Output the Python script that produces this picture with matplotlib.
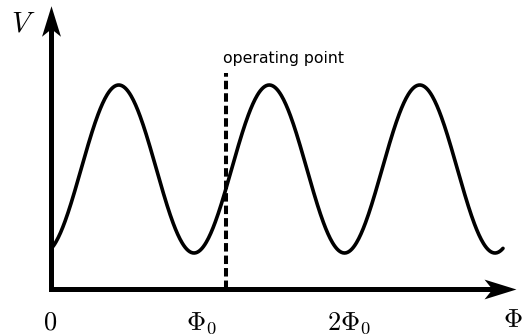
import numpy as np
import matplotlib
matplotlib.use("Agg")
import matplotlib.pyplot as plt
from matplotlib.path import Path

plt.rcParams['mathtext.fontset'] = 'cm'

# curve (flux in px-like units from the origin, V above the Phi axis)
phi_start, phi_end = 2, 452
phi_first_min = 143
period = 150.5
v_min, v_max = 36, 204

op_point = 175
op_top = 216

tick_pos = [-1, 150, 298]
tick_labels = ['$0$', r'$\Phi_0$', r'$2\Phi_0$']

fig = plt.figure(figsize=(5.22, 3.35), dpi=100)
ax = fig.add_axes([0, 0, 1, 1])
ax.set_xlim(-51, 471)
ax.set_ylim(-46, 289)
ax.axis('off')

phi = np.linspace(phi_start, phi_end, 600)
mid = (v_max + v_min) / 2
amp = (v_max - v_min) / 2
v = mid - amp * np.cos(2 * np.pi * (phi - phi_first_min) / period)
ax.plot(phi, v, color='black', lw=2.6, solid_capstyle='round')

# axes as an L with stealth arrow heads
ax.plot([0, 0, 440], [260, 0, 0], color='black', lw=3.6, solid_capstyle='projecting',
        solid_joinstyle='miter')


def stealth(angle):
    pts = np.array([[1, 0], [-1, 0.62], [-0.5, 0], [-1, -0.62], [1, 0]])
    c, s = np.cos(angle), np.sin(angle)
    pts = pts @ np.array([[c, s], [-s, c]])
    return Path(pts, [Path.MOVETO, Path.LINETO, Path.LINETO, Path.LINETO, Path.CLOSEPOLY])


ax.plot([449], [0], marker=stealth(0), ms=23, color='black', mew=0)
ax.plot([0], [268.5], marker=stealth(np.pi / 2), ms=22, color='black', mew=0)

# operating point
ax.plot([op_point, op_point], [0, op_top], color='black', lw=2.9, ls=(0, (2.1, 1.0)))
ax.text(op_point - 3, 230, 'operating point', fontsize=11.3, family='DejaVu Sans',
        ha='left', va='center')

for p, lab in zip(tick_pos, tick_labels):
    ax.text(p, -41, lab, fontsize=19, ha='center', va='baseline')
ax.text(462, -38, r'$\Phi$', fontsize=19, ha='center', va='baseline')
ax.text(-28, 257, r'$V$', fontsize=21, ha='center', va='baseline')

fig.savefig('out.png', dpi=100)
